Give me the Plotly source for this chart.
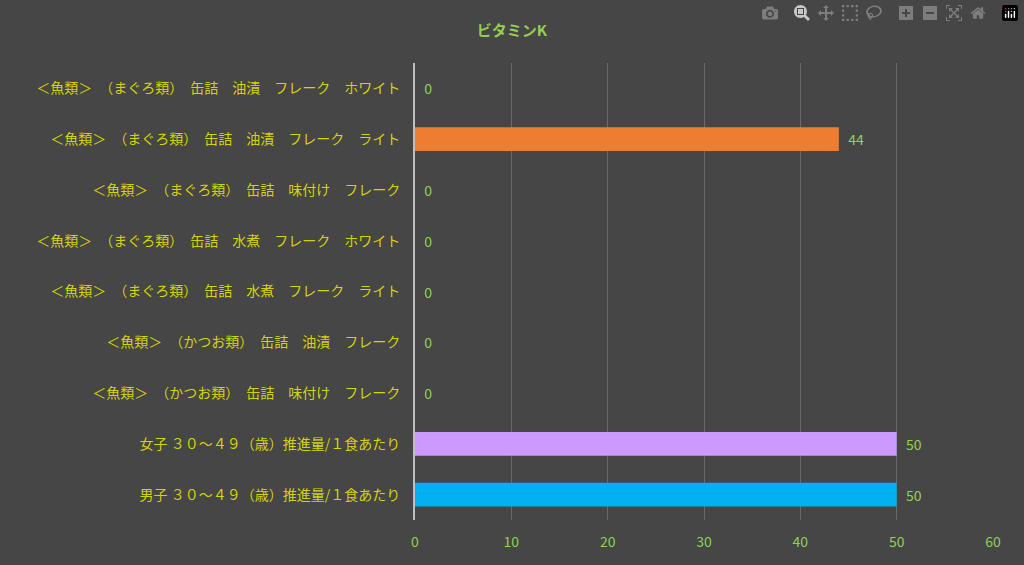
import plotly.graph_objects as go

# Data (bottom to top)
foods = [
    '男子 ３０～４９（歳）推進量/１食あたり',
    '女子 ３０～４９（歳）推進量/１食あたり',
    '＜魚類＞　（かつお類）　缶詰　味付け　フレーク',
    '＜魚類＞　（かつお類）　缶詰　油漬　フレーク',
    '＜魚類＞　（まぐろ類）　缶詰　水煮　フレーク　ライト',
    '＜魚類＞　（まぐろ類）　缶詰　水煮　フレーク　ホワイト',
    '＜魚類＞　（まぐろ類）　缶詰　味付け　フレーク',
    '＜魚類＞　（まぐろ類）　缶詰　油漬　フレーク　ライト',
    '＜魚類＞　（まぐろ類）　缶詰　油漬　フレーク　ホワイト',
]
vitamin_k = [50, 50, 0, 0, 0, 0, 0, 44, 0]
bar_colors = ['#00b0f0', '#cc99ff', '#7f7f7f', '#7f7f7f', '#7f7f7f',
              '#7f7f7f', '#7f7f7f', '#ed7d31', '#7f7f7f']

fig = go.Figure(go.Bar(
    y=foods,
    x=vitamin_k,
    orientation='h',
    width=0.47,
    marker=dict(color=bar_colors, line=dict(width=0)),
    texttemplate='  %{x}',
    textposition='outside',
    textfont=dict(color='#92d050', size=14),
    cliponaxis=False,
))

fig.update_layout(
    title=dict(text='<b>ビタミンK</b>', x=0.5, xanchor='center', y=0.955,
               font=dict(color='#92d050', size=15)),
    width=1024, height=565,
    margin=dict(l=415, r=31, t=63, b=45),
    paper_bgcolor='#464646',
    plot_bgcolor='rgba(0,0,0,0)',
    font=dict(family='Noto Sans CJK JP', size=14),
    showlegend=False,
    bargap=0.5,
)
fig.update_xaxes(range=[0, 60], dtick=10, showgrid=True, gridcolor='#6a6a6a',
                 zeroline=False, tickfont=dict(color='#92d050', size=14),
                 ticks='', ticklabelstandoff=12)
fig.update_yaxes(showline=True, linecolor='#bfbfbf', linewidth=2,
                 tickfont=dict(color='#d4d400', size=14), ticks='',
                 ticklabelstandoff=10)

fig.write_html('out.html',
               post_script="document.body.style.margin='0';document.body.style.background='#464646';")
